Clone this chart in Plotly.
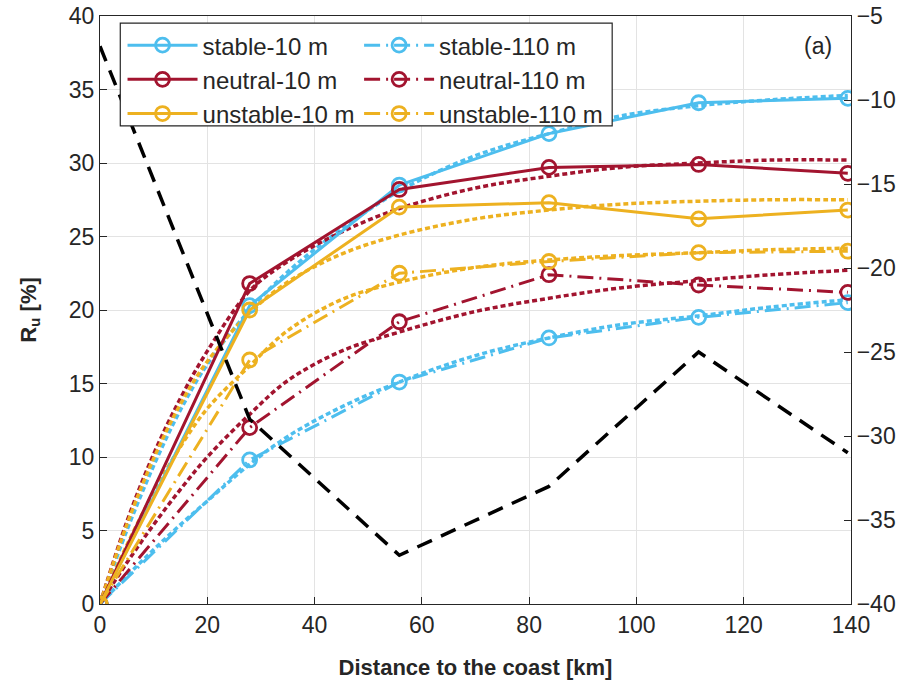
import plotly.graph_objects as go

# Distance of the measurement points from the coast [km]
distance_km = [0, 27.9, 55.8, 83.7, 111.6, 139.4]

# Speed-up ratio R_u [%] at 10 m and 110 m for each stability class
stable_10 = [0, 20.3, 28.5, 32.0, 34.1, 34.4]
neutral_10 = [0, 21.8, 28.2, 29.7, 29.9, 29.3]
unstable_10 = [0, 20.0, 27.0, 27.3, 26.2, 26.8]
stable_110 = [0, 9.8, 15.1, 18.1, 19.5, 20.5]
neutral_110 = [0, 12.0, 19.2, 22.4, 21.7, 21.2]
unstable_110 = [0, 16.6, 22.5, 23.3, 23.9, 24.0]

# Fitted curves, sampled along the distance axis
fit_x = [0, 5, 10, 15, 20, 27.9, 35, 45, 55.8, 70, 83.7, 97, 111.6, 125, 139.4]
stable_10_fit = [0, 5.0, 9.4, 13.2, 16.3, 20.0, 22.6, 25.5, 28.1, 30.5, 32.0, 33.2, 33.9, 34.3, 34.6]
neutral_10_fit = [0, 5.6, 10.2, 14.0, 17.2, 21.3, 23.3, 25.3, 26.9, 28.3, 29.1, 29.7, 30.0, 30.2, 30.2]
unstable_10_fit = [0, 5.4, 9.9, 13.6, 16.5, 19.8, 21.9, 23.8, 25.1, 26.2, 26.8, 27.2, 27.4, 27.5, 27.5]
stable_110_fit = [0, 1.9, 3.7, 5.4, 7.0, 9.5, 11.4, 13.4, 15.1, 16.9, 18.1, 19.0, 19.6, 20.2, 20.7]
neutral_110_fit = [0, 2.8, 5.4, 7.8, 10.0, 12.9, 15.2, 17.2, 18.5, 19.9, 20.8, 21.5, 22.0, 22.4, 22.7]
unstable_110_fit = [0, 4.0, 7.6, 10.7, 13.3, 16.2, 18.6, 20.7, 21.9, 22.9, 23.4, 23.7, 23.9, 24.1, 24.2]

# Right-axis quantity along the same transect
right_axis_values = [-6.8, -29.0, -37.1, -33.0, -25.0, -31.0]

# Tick labels
x_ticks = [0, 20, 40, 60, 80, 100, 120, 140]
y_ticks = [0, 5, 10, 15, 20, 25, 30, 35, 40]
y2_ticks = [-40, -35, -30, -25, -20, -15, -10, -5]

CYAN = "#4DBEEE"
RED = "#A2142F"
YELLOW = "#EDB120"
TXT = "#262626"
FONT = "Liberation Sans, Arial, sans-serif"
DASHDOT = "16px,6px,2px,6px"

fig = go.Figure()

series = [
    ("stable-10 m", stable_10, stable_10_fit, CYAN, "solid", "legend"),
    ("neutral-10 m", neutral_10, neutral_10_fit, RED, "solid", "legend"),
    ("stable-110 m", stable_110, stable_110_fit, CYAN, DASHDOT, "legend2"),
    ("neutral-110 m", neutral_110, neutral_110_fit, RED, DASHDOT, "legend2"),
    ("unstable-110 m", unstable_110, unstable_110_fit, YELLOW, DASHDOT, "legend2"),
    ("unstable-10 m", unstable_10, unstable_10_fit, YELLOW, "solid", "legend"),
]

# fitted curves first (dotted), then the measured lines with markers
for name, vals, fit, color, dash, leg in series:
    fig.add_trace(go.Scatter(
        x=fit_x, y=fit, mode="lines", line=dict(color=color, width=3.5, dash="5px,3px", shape="spline"),
        showlegend=False, hoverinfo="skip",
    ))

legend_rank = {"stable-10 m": 1, "neutral-10 m": 2, "unstable-10 m": 3,
               "stable-110 m": 1, "neutral-110 m": 2, "unstable-110 m": 3}
for name, vals, fit, color, dash, leg in series:
    fig.add_trace(go.Scatter(
        x=distance_km, y=vals, name=name, mode="lines+markers",
        line=dict(color=color, width=3, dash=dash),
        marker=dict(symbol="circle-open", size=14, color=color, line=dict(width=2.8, color=color)),
        legend=leg, legendgroup=name, legendrank=legend_rank[name],
    ))

fig.add_trace(go.Scatter(
    x=distance_km, y=right_axis_values, mode="lines", yaxis="y2",
    line=dict(color="black", width=3.5, dash="16px,10px"), showlegend=False,
))

axis_common = dict(
    showline=True, linecolor=TXT, linewidth=1.2, ticks="inside", ticklen=7,
    tickcolor=TXT, tickfont=dict(family=FONT, size=23, color=TXT),
    zeroline=False,
)

legend_common = dict(
    bgcolor="rgba(0,0,0,0)", borderwidth=0, font=dict(family=FONT, size=24, color=TXT),
    itemwidth=70, traceorder="grouped", tracegroupgap=0,
    xanchor="left", yanchor="top", itemclick=False,
)

fig.update_layout(
    width=904, height=689,
    margin=dict(l=100, r=53, t=16, b=85, autoexpand=False),
    paper_bgcolor="white", plot_bgcolor="white",
    font=dict(family=FONT, color=TXT),
    xaxis=dict(
        range=[0, 140], tickvals=x_ticks, mirror=True, showgrid=True, gridcolor="#e3e3e3",
        title=dict(text="<b>Distance to the coast [km]</b>", font=dict(family=FONT, size=22, color=TXT), standoff=22),
        **axis_common,
    ),
    yaxis=dict(
        range=[0, 40], tickvals=y_ticks, showgrid=True, gridcolor="#e3e3e3",
        title=dict(text="<b>R<sub>u</sub> [%]</b>", font=dict(family=FONT, size=22, color=TXT), standoff=26),
        **axis_common,
    ),
    yaxis2=dict(
        range=[-40, -5], tickvals=y2_ticks, overlaying="y", side="right", showgrid=False,
        **axis_common,
    ),
    legend=dict(x=0.03, y=0.988, **legend_common),
    legend2=dict(x=0.345, y=0.988, **legend_common),
    shapes=[dict(
        type="rect", xref="paper", yref="paper", x0=0.027, x1=0.682, y0=0.813, y1=0.988,
        line=dict(color=TXT, width=1.2), fillcolor="white", layer="above",
    )],
    annotations=[dict(
        text="(a)", xref="paper", yref="paper", x=0.978, y=0.975, xanchor="right", yanchor="top",
        showarrow=False, font=dict(family=FONT, size=23, color=TXT),
    )],
    showlegend=True,
)

fig.write_html("out.html")
